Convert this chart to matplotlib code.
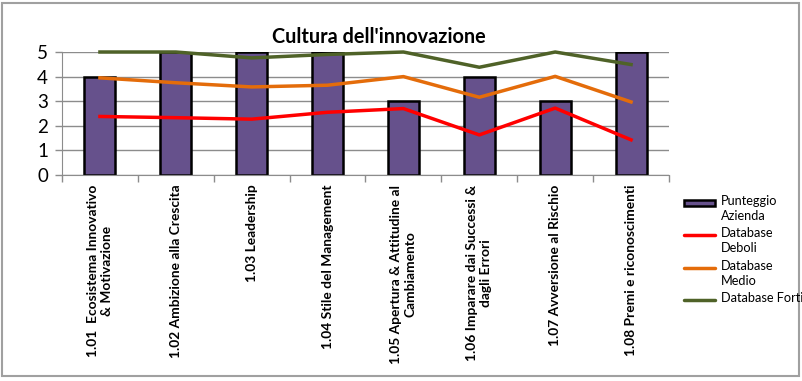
import numpy as np
import matplotlib.pyplot as plt
from matplotlib.patches import Rectangle
from matplotlib.lines import Line2D

plt.rcParams['font.family'] = ['Lato', 'DejaVu Sans']

categories = ["1.01  Ecosistema Innovativo\n& Motivazione",
              "1.02 Ambizione alla Crescita",
              "1.03 Leadership",
              "1.04 Stile del Management",
              "1.05 Apertura & Attitudine al\nCambiamento",
              "1.06 Imparare dai Successi &\ndagli Errori",
              "1.07 Avversione al Rischio",
              "1.08 Premi e riconoscimenti"]
punteggio = [4, 5, 5, 5, 3, 4, 3, 5]
deboli = [2.38, 2.33, 2.27, 2.55, 2.7, 1.63, 2.72, 1.43]
medio = [3.95, 3.75, 3.58, 3.65, 4.0, 3.16, 4.01, 2.97]
forti = [5.0, 5.0, 4.76, 4.9, 5.0, 4.38, 5.0, 4.49]
legend_labels = ['Punteggio\nAzienda', 'Database\nDeboli', 'Database\nMedio', 'Database Forti']

bar_color = '#66518c'
line_colors = ['#ff0000', '#e46c0a', '#4f6228']

W, H = 803, 381
fig = plt.figure(figsize=(W/100, H/100), dpi=100)
ax = fig.add_axes([62/W, 1-175/H, (669-62)/W, (175-52)/H])

x = np.arange(len(categories))
ax.bar(x, punteggio, width=0.41, color=bar_color, edgecolor='black', linewidth=1.8, zorder=2)
for vals, c in zip([deboli, medio, forti], line_colors):
    ax.plot(x, vals, color=c, lw=2.5, zorder=3, clip_on=False)

ax.set_xlim(-0.5, len(categories)-0.5)
ax.set_ylim(0, 5)
ax.set_yticks(range(6))
ax.yaxis.grid(True, color='#8c8c8c', lw=1)
ax.set_axisbelow(True)
for s in ['top', 'right']:
    ax.spines[s].set_visible(False)
ax.spines['left'].set_color('#8c8c8c')
ax.spines['bottom'].set_color('#8c8c8c')
ax.tick_params(axis='y', labelsize=13.5, color='#8c8c8c', length=5, width=1, pad=5)

ax.set_xticks(x)
ax.set_xticklabels(categories, rotation=90, fontsize=9.9, fontweight='bold',
                   multialignment='center', color='black')
ax.tick_params(axis='x', length=0, pad=7)
ax.set_xticks(np.arange(-0.5, len(categories)), minor=True)
ax.tick_params(axis='x', which='minor', length=5, color='#8c8c8c', width=1)

fig.text(379/W, 1-37/H, "Cultura dell'innovazione", ha='center', va='center',
         fontsize=14.3, fontweight='bold')

# legend drawn by hand so the key sits on the first text line, like Excel
ys = [203, 235, 268, 300]
fig.patches.append(Rectangle((684/W, 1-(ys[0]+3)/H), 31/W, 6/H, transform=fig.transFigure,
                             facecolor=bar_color, edgecolor='black', lw=1.8))
for y, c in zip(ys[1:], line_colors):
    fig.lines.append(Line2D([684/W, 715/W], [1-y/H, 1-y/H], transform=fig.transFigure,
                            color=c, lw=2.5, solid_capstyle='round'))
for y, lab in zip(ys, legend_labels):
    fig.text(721/W, 1-(y-8)/H, lab, ha='left', va='top', fontsize=9.2, linespacing=1.3)

fig.patches.append(Rectangle((2/W, 5/H), 797/W, 373/H, transform=fig.transFigure,
                             fill=False, edgecolor='#a0a0a0', lw=1.5))

fig.savefig('out.png', dpi=100)
